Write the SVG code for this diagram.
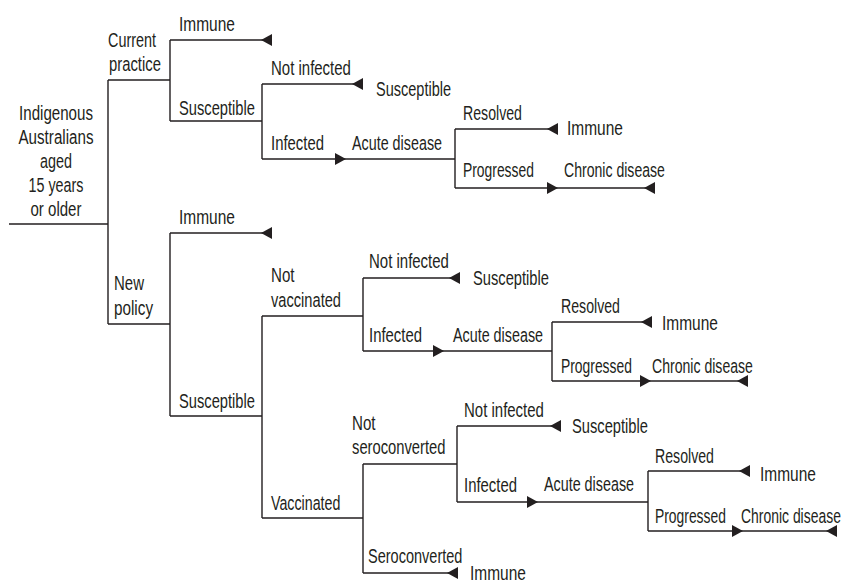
<svg xmlns="http://www.w3.org/2000/svg" xmlns:xlink="http://www.w3.org/1999/xlink" width="844" height="583" viewBox="0 0 844 583">
<style>
text{font-family:"Liberation Sans",Arial,sans-serif;font-size:19.5px;fill:#231f20}
.c{text-anchor:middle}
.ln{fill:none;stroke:#231f20;stroke-width:1.4}
.ah{fill:#231f20}
</style>
<defs>
<path id="al" d="M0 0 L11 -6 L11 6 Z"/>
<path id="ar" d="M0 -6 L11 0 L0 6 Z"/>
</defs>
<rect width="844" height="583" fill="#fff"/>
<g id="connectors">
<path class="ln" d="M9 224H108M108 80V324M108 80H170M108 324H170
M170 40V121M170 40H272M170 121H262
M262 84V159M262 84H363M262 159H455
M455 129V188M455 129H558M455 188H655
M170 233V416M170 233H272M170 416H262
M262 316V518M262 316H363M262 518H363
M363 278V351M363 278H460M363 351H552
M552 322V381M552 322H652M552 381H748
M363 464V573M363 464H457M363 573H458
M457 426V502M457 426H561M457 502H648
M648 471V531M648 471H750M648 531H837"/>
<g class="ah">
<use xlink:href="#al" x="261" y="40"/>
<use xlink:href="#al" x="352" y="84"/>
<use xlink:href="#ar" x="335" y="159"/>
<use xlink:href="#al" x="547" y="129"/>
<use xlink:href="#ar" x="547" y="188"/>
<use xlink:href="#al" x="644" y="188"/>
<use xlink:href="#al" x="261" y="233"/>
<use xlink:href="#al" x="449" y="278"/>
<use xlink:href="#ar" x="433" y="351"/>
<use xlink:href="#al" x="641" y="322"/>
<use xlink:href="#ar" x="640" y="381"/>
<use xlink:href="#al" x="737" y="381"/>
<use xlink:href="#al" x="447" y="573"/>
<use xlink:href="#al" x="550" y="426"/>
<use xlink:href="#ar" x="527" y="502"/>
<use xlink:href="#al" x="739" y="471"/>
<use xlink:href="#ar" x="732" y="531"/>
<use xlink:href="#al" x="826" y="531"/>
</g>
</g>
<g id="root">
<text class="c" transform="translate(56,120) scale(0.776,1)">Indigenous</text>
<text class="c" transform="translate(56,144) scale(0.778,1)">Australians</text>
<text class="c" transform="translate(56,168) scale(0.738,1)">aged</text>
<text class="c" transform="translate(56,192) scale(0.735,1)">15 years</text>
<text class="c" transform="translate(56,216) scale(0.772,1)">or older</text>
</g>
<g id="current-practice">
<text transform="translate(108,47) scale(0.738,1)">Current</text>
<text transform="translate(109,71) scale(0.761,1)">practice</text>
</g>
<g id="cp-immune"><text transform="translate(179,31) scale(0.795,1)">Immune</text></g>
<g id="cp-susceptible"><text transform="translate(179,115) scale(0.754,1)">Susceptible</text></g>
<g id="cp-not-infected"><text transform="translate(271,75) scale(0.769,1)">Not infected</text></g>
<g id="cp-susceptible-end"><text transform="translate(376,96) scale(0.745,1)">Susceptible</text></g>
<g id="cp-infected"><text transform="translate(271,150) scale(0.764,1)">Infected</text></g>
<g id="cp-acute"><text transform="translate(352,150) scale(0.735,1)">Acute disease</text></g>
<g id="cp-resolved"><text transform="translate(463,120) scale(0.726,1)">Resolved</text></g>
<g id="cp-immune-end"><text transform="translate(567,135) scale(0.795,1)">Immune</text></g>
<g id="cp-progressed"><text transform="translate(463,177) scale(0.712,1)">Progressed</text></g>
<g id="cp-chronic"><text transform="translate(564,177) scale(0.722,1)">Chronic disease</text></g>
<g id="new-policy">
<text transform="translate(114,290) scale(0.769,1)">New</text>
<text transform="translate(114,315) scale(0.783,1)">policy</text>
</g>
<g id="np-immune"><text transform="translate(179,224) scale(0.795,1)">Immune</text></g>
<g id="np-susceptible"><text transform="translate(179,408) scale(0.754,1)">Susceptible</text></g>
<g id="np-not-vaccinated">
<text transform="translate(271,282) scale(0.775,1)">Not</text>
<text transform="translate(271,307) scale(0.751,1)">vaccinated</text>
</g>
<g id="nv-not-infected"><text transform="translate(369,268) scale(0.769,1)">Not infected</text></g>
<g id="nv-susceptible-end"><text transform="translate(473,285) scale(0.754,1)">Susceptible</text></g>
<g id="nv-infected"><text transform="translate(369,342) scale(0.764,1)">Infected</text></g>
<g id="nv-acute"><text transform="translate(453,342) scale(0.735,1)">Acute disease</text></g>
<g id="nv-resolved"><text transform="translate(561,313) scale(0.726,1)">Resolved</text></g>
<g id="nv-immune-end"><text transform="translate(662,330) scale(0.795,1)">Immune</text></g>
<g id="nv-progressed"><text transform="translate(561,373) scale(0.712,1)">Progressed</text></g>
<g id="nv-chronic"><text transform="translate(652,373) scale(0.722,1)">Chronic disease</text></g>
<g id="np-vaccinated"><text transform="translate(271,510) scale(0.731,1)">Vaccinated</text></g>
<g id="v-not-seroconverted">
<text transform="translate(352,430) scale(0.775,1)">Not</text>
<text transform="translate(352,454) scale(0.757,1)">seroconverted</text>
</g>
<g id="ns-not-infected"><text transform="translate(464,417) scale(0.769,1)">Not infected</text></g>
<g id="ns-susceptible-end"><text transform="translate(572,433) scale(0.754,1)">Susceptible</text></g>
<g id="ns-infected"><text transform="translate(464,492) scale(0.764,1)">Infected</text></g>
<g id="ns-acute"><text transform="translate(544,491) scale(0.735,1)">Acute disease</text></g>
<g id="ns-resolved"><text transform="translate(655,463) scale(0.726,1)">Resolved</text></g>
<g id="ns-immune-end"><text transform="translate(760,481) scale(0.795,1)">Immune</text></g>
<g id="ns-progressed"><text transform="translate(655,523) scale(0.712,1)">Progressed</text></g>
<g id="ns-chronic"><text transform="translate(741,523) scale(0.715,1)">Chronic disease</text></g>
<g id="v-seroconverted"><text transform="translate(368,563) scale(0.745,1)">Seroconverted</text></g>
<g id="s-immune-end"><text transform="translate(470,580) scale(0.795,1)">Immune</text></g>
</svg>
